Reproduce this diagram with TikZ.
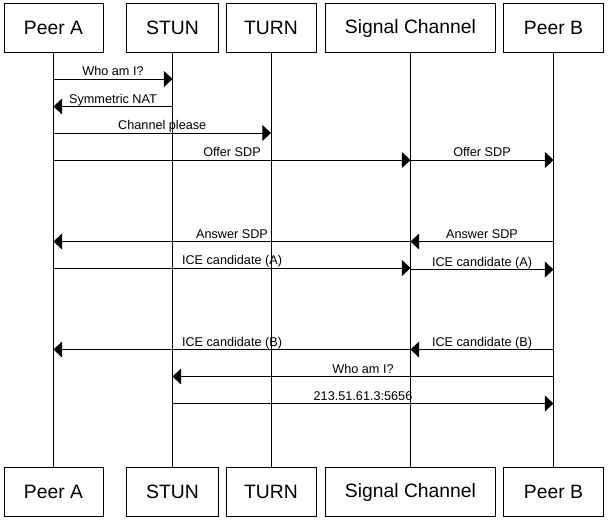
\documentclass[tikz,border=0pt]{standalone}
\usepackage{fontspec}
\setmainfont{Liberation Sans}
\usetikzlibrary{arrows.meta}

\begin{document}
\begin{tikzpicture}[x=0.75pt, y=-0.75pt, >={Triangle[length=6.5pt,width=12pt]},
    actor/.style={draw, line width=0.75pt, minimum height=36.75pt, inner sep=0pt, font=\fontsize{14.5}{17}\selectfont},
    life/.style={line width=0.75pt},
    msg/.style={->, line width=0.75pt},
    lbl/.style={anchor=base, yshift=2.3pt, inner sep=0pt, font=\fontsize{9.5}{11}\selectfont}]
    \useasboundingbox (0,0) rectangle (609,522);

    % Participants (top)
    \node[actor, minimum width=74.25pt] (peerA) at (53.5,28) {Peer A};
    \node[actor, minimum width=68.7pt] (stun) at (172.5,28) {STUN};
    \node[actor, minimum width=67.5pt] (turn) at (271,28) {TURN};
    \node[actor, minimum width=128pt] (signal) at (410.5,28) {Signal Channel};
    \node[actor, minimum width=74.5pt] (peerB) at (553.5,28) {Peer B};

    % Participants (bottom)
    \node[actor, minimum width=74.25pt] (peerAb) at (53.5,492) {Peer A};
    \node[actor, minimum width=68.7pt] (stunb) at (172.5,492) {STUN};
    \node[actor, minimum width=67.5pt] (turnb) at (271,492) {TURN};
    \node[actor, minimum width=128pt] (signalb) at (410.5,492) {Signal Channel};
    \node[actor, minimum width=74.5pt] (peerBb) at (553.5,492) {Peer B};

    % Lifelines
    \draw[life] (peerA) -- (peerAb);
    \draw[life] (stun) -- (stunb);
    \draw[life] (turn) -- (turnb);
    \draw[life] (signal) -- (signalb);
    \draw[life] (peerB) -- (peerBb);

    % Messages
    \draw[msg] (peerA |- 0,79) -- node[lbl] {Who am I?} (stun |- 0,79);
    \draw[msg] (stun |- 0,106.5) -- node[lbl] {Symmetric NAT} (peerA |- 0,106.5);
    \draw[msg] (peerA |- 0,133) -- node[lbl] {Channel please} (turn |- 0,133);
    \draw[msg] (peerA |- 0,160) -- node[lbl] {Offer SDP} (signal |- 0,160);
    \draw[msg] (signal |- 0,160) -- node[lbl] {Offer SDP} (peerB |- 0,160);
    \draw[msg] (signal |- 0,241.5) -- node[lbl] {Answer SDP} (peerA |- 0,241.5);
    \draw[msg] (peerB |- 0,241.5) -- node[lbl] {Answer SDP} (signal |- 0,241.5);
    \draw[msg] (peerA |- 0,268) -- node[lbl] {ICE candidate (A)} (signal |- 0,268);
    \draw[msg] (signal |- 0,269.5) -- node[lbl] {ICE candidate (A)} (peerB |- 0,269.5);
    \draw[msg] (signal |- 0,349.5) -- node[lbl] {ICE candidate (B)} (peerA |- 0,349.5);
    \draw[msg] (peerB |- 0,349.5) -- node[lbl] {ICE candidate (B)} (signal |- 0,349.5);
    \draw[msg] (peerB |- 0,376.5) -- node[lbl] {Who am I?} (stun |- 0,376.5);
    \draw[msg] (stun |- 0,403.5) -- node[lbl] {213.51.61.3:5656} (peerB |- 0,403.5);
\end{tikzpicture}
\end{document}
